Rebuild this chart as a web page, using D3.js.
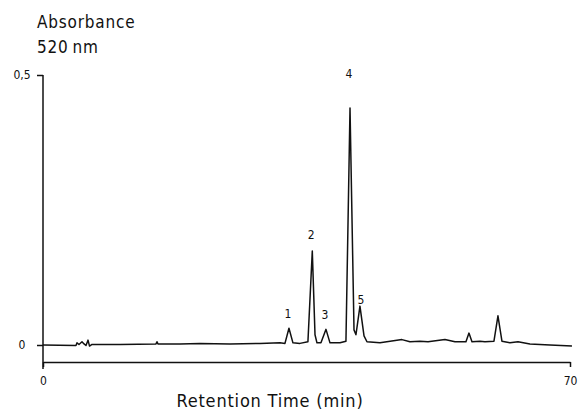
<!DOCTYPE html>
<html><head><meta charset="utf-8">
<script src="https://cdn.jsdelivr.net/npm/d3@7"></script>
<style>body{margin:0;background:#fff}svg{display:block}text{font-family:"DejaVu Sans Condensed","DejaVu Sans",sans-serif;fill:#111}</style>
</head><body><svg id="c" width="585" height="412"></svg>
<script>
// retention time (min) and absorbance (520 nm)
const times = [0,4.38,4.52,4.78,5.18,5.45,5.71,5.98,6.18,6.51,10.23,15.01,15.14,15.27,18.2,20.85,24.84,28.82,31.48,32.14,32.67,33.2,34.13,35.19,35.77,36.13,36.39,36.92,37.59,38.12,39.45,40.24,40.78,41.31,41.57,42.1,42.64,43.03,44.76,47.68,48.74,50.07,51.14,53.39,54.72,56.18,56.58,56.98,58.04,58.7,59.9,60.43,60.96,62.03,63.09,64.68,67.34,70.26];
const absorb = [0,-0.001,0.004,0.001,0.006,0.002,-0.001,0.009,-0.002,0.001,0.001,0.002,0.006,0.002,0.002,0.003,0.002,0.003,0.004,0.003,0.031,0.004,0.003,0.006,0.174,0.019,0.004,0.004,0.029,0.004,0.004,0.007,0.439,0.028,0.019,0.072,0.017,0.006,0.004,0.010,0.006,0.007,0.006,0.010,0.006,0.006,0.022,0.006,0.007,0.006,0.007,0.054,0.007,0.004,0.006,0.002,0,-0.002];
const peakLabels = ["1","2","3","4","5"];
const peakTimes = [32.67,35.77,37.59,40.78,42.1];
const peakLabelValues = [0.05,0.196,0.048,0.494,0.076];
const xTicks = [0,70];
const yTicks = [0,0.5];
const yTickLabels = ["0","0,5"];

const svg = d3.select("#c");
const x = d3.scaleLinear().domain([0,70]).range([43,570]);
const y = d3.scaleLinear().domain([0,0.5]).range([345,75]);
const axisY = 362;

// x axis
const gx = svg.append("g").attr("transform",`translate(0,${axisY})`)
  .call(d3.axisBottom(x).tickValues(xTicks).tickSize(5).tickSizeOuter(0).tickPadding(9).tickFormat(d3.format("d")));
gx.select(".domain").attr("stroke","#111").attr("stroke-width",1.5);
gx.selectAll(".tick line").attr("stroke","#111").attr("stroke-width",1.5);
gx.selectAll(".tick text").style("font-size","12px");

// y axis
const gy = svg.append("g").attr("transform","translate(43,0)")
  .call(d3.axisLeft(y).tickValues(yTicks).tickSize(6).tickFormat((d,i)=>yTickLabels[i]));
gy.select(".domain").remove();
gy.append("line").attr("x1",0).attr("x2",0).attr("y1",y(0.5)).attr("y2",axisY+7).attr("stroke","#111").attr("stroke-width",1.5);
gy.selectAll(".tick line").attr("stroke","#111").attr("stroke-width",1.5);
gy.selectAll(".tick text").attr("x",-21).attr("text-anchor","middle").style("font-size","12px");

// trace
const data = times.map((t,i)=>[t,absorb[i]]);
svg.append("path").datum(data)
  .attr("d",d3.line().x(d=>x(d[0])).y(d=>y(d[1])))
  .attr("fill","none").attr("stroke","#111").attr("stroke-width",1.5).attr("stroke-linejoin","round");

// peak labels
svg.selectAll(".pl").data(peakLabels).join("text")
  .attr("x",(d,i)=>x(peakTimes[i]) + (i===4?1:-1)).attr("y",(d,i)=>y(peakLabelValues[i]))
  .attr("text-anchor","middle").style("font-size","12px").text(d=>d);

// titles
svg.append("text").attr("x",37).attr("y",28).style("font-size","17px").attr("letter-spacing","0.8").text("Absorbance");
svg.append("text").attr("x",37).attr("y",53).style("font-size","17px").attr("letter-spacing","0.8").text("520\u2009nm");
svg.append("text").attr("x",270).attr("y",407).attr("text-anchor","middle").style("font-size","18px").attr("letter-spacing","0.8").text("Retention Time (min)");
</script></body></html>
